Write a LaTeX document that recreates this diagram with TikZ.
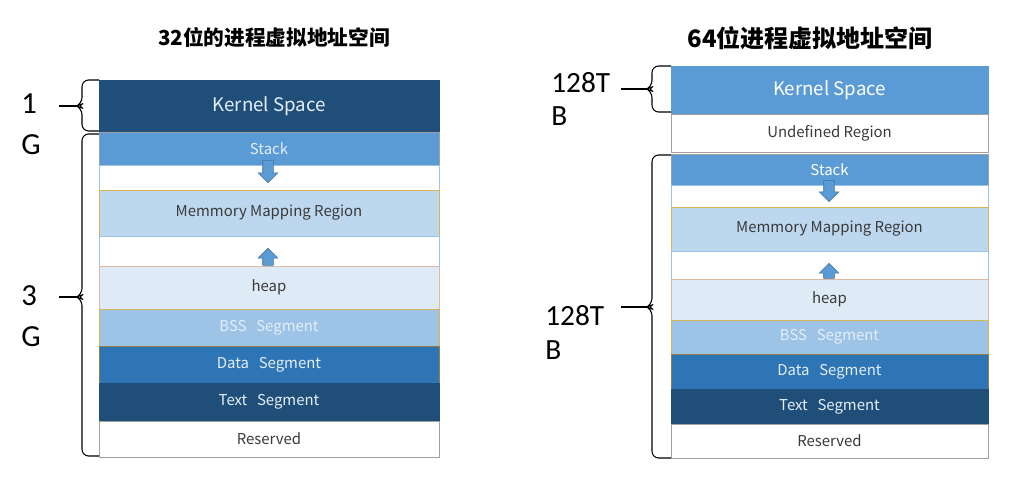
\documentclass[tikz,border=0pt]{standalone}
\usepackage{fontspec}
\setmainfont{Noto Sans CJK SC}
\newfontfamily\sizefont{Carlito}
\usetikzlibrary{shapes.arrows}
\definecolor{navy}{HTML}{1F4E79}
\definecolor{midblue}{HTML}{5B9BD5}
\definecolor{paleblue}{HTML}{BDD7EE}
\definecolor{heapblue}{HTML}{DEEBF7}
\definecolor{bssblue}{HTML}{9DC3E6}
\definecolor{datablue}{HTML}{2E75B6}
\definecolor{paletext}{HTML}{E4EEF8}
\definecolor{labelgrey}{HTML}{3A3A3A}
\definecolor{segedge}{HTML}{A0A0A0}
\definecolor{goldline}{HTML}{D6B656}
\definecolor{tanline}{HTML}{DDB9A3}
\definecolor{arrowedge}{HTML}{41719C}
\newcommand{\segsp}{\hspace{0.65em}}

\begin{document}
\begin{tikzpicture}[x=0.75pt,y=-0.75pt,
    seg/.style={rectangle,draw=segedge,line width=0.6pt,inner sep=0pt,
                text=labelgrey,font=\fontsize{11.2}{13}\selectfont},
    lcol/.style={seg,minimum width=255pt},
    rcol/.style={seg,minimum width=237.75pt},
    navyseg/.style={fill=navy,draw=navy,text=paletext},
    stackseg/.style={fill=midblue,draw=segedge,text=paletext},
    gapseg/.style={fill=white,draw=bssblue},
    mapseg/.style={fill=paleblue,draw=goldline},
    heapseg/.style={fill=heapblue,draw=tanline},
    bssseg/.style={fill=bssblue,draw=goldline,text=paletext},
    dataseg/.style={fill=datablue,draw=goldline!70!black,text=paletext},
    kernfont/.style={font=\fontsize{14}{16}\selectfont},
    growarrow/.style={single arrow,single arrow head extend=3.4pt,inner xsep=0pt,
                 inner ysep=3.75pt,minimum width=14.25pt,fill=midblue,
                 draw=arrowedge,line width=0.4pt},
    curly/.style={line width=0.8pt,rounded corners=5pt},
    sizelbl/.style={font=\sizefont\fontsize{23}{31}\selectfont,align=left,
                    anchor=north west,inner sep=0pt},
    title/.style={font=\bfseries\fontsize{15.5}{18}\selectfont}]
  \useasboundingbox (0,0) rectangle (1019,492);

  % 32-bit address space
  \node[title] (t32) at (274,38) {32位的进程虚拟地址空间};
  \node[lcol,navyseg,kernfont,minimum height=39pt] (k32) at (269,106) {Kernel Space};
  \node[lcol,stackseg,minimum height=24.75pt] (s32) at (269,148.5) {Stack};
  \node[lcol,gapseg,minimum height=18.75pt] (ga32) at (269,177.5) {};
  \node[lcol,mapseg,minimum height=34.5pt] (m32) at (269,213) {Memmory Mapping Region};
  \node[lcol,gapseg,minimum height=22.5pt] (gb32) at (269,251) {};
  \node[lcol,heapseg,minimum height=32.25pt] (h32) at (269,287.5) {heap};
  \node[lcol,bssseg,minimum height=27.75pt] (b32) at (269,327.5) {BSS\segsp Segment};
  \node[lcol,dataseg,minimum height=27.75pt] (d32) at (269,364.5) {Data\segsp Segment};
  \node[lcol,navyseg,minimum height=28.5pt] (x32) at (269,402) {Text\segsp Segment};
  \node[lcol,fill=white,minimum height=27pt] (r32) at (269,439) {Reserved};
  \node[growarrow,rotate=-90,minimum height=16.5pt] (dn32) at (268,169) {};
  \node[growarrow,rotate=90,minimum height=12.75pt] (up32) at (268,259.5) {};

  \draw[curly] (99,80) -- (82,80) -- (82,104) -- (77,106) -- (82,108) -- (82,131) -- (99,131);
  \draw[curly] (99,134) -- (82,134) -- (82,295) -- (77,297) -- (82,299) -- (82,456) -- (99,456);
  \coordinate (tipa32) at (77,106);  \coordinate (enda32) at (59,106);
  \coordinate (tipb32) at (77,297);  \coordinate (endb32) at (59,297);
  \draw[line width=0.8pt] (tipa32) -- (enda32);
  \draw[line width=0.8pt] (tipb32) -- (endb32);
  \node[sizelbl] (one) at (21,93) {1\\G};
  \node[sizelbl] (three) at (21,285) {3\\G};

  % 64-bit address space
  \node[title,font=\bfseries\fontsize{18}{21}\selectfont] (t64) at (810,38) {64位进程虚拟地址空间};
  \node[rcol,stackseg,draw=midblue,text=white,kernfont,minimum height=36pt] (k64) at (829.5,90) {Kernel Space};
  \node[rcol,fill=white,minimum height=28.5pt] (u64) at (829.5,133) {Undefined Region};
  \node[rcol,stackseg,text=white,minimum height=23.25pt] (s64) at (829.5,169.5) {Stack};
  \node[rcol,gapseg,minimum height=16.5pt] (ga64) at (829.5,196) {};
  \node[rcol,mapseg,minimum height=33pt] (m64) at (829.5,229) {Memmory Mapping Region};
  \node[rcol,gapseg,minimum height=21pt] (gb64) at (829.5,265) {};
  \node[rcol,heapseg,minimum height=30.75pt] (h64) at (829.5,299.5) {heap};
  \node[rcol,bssseg,minimum height=25.5pt] (b64) at (829.5,337) {BSS\segsp Segment};
  \node[rcol,dataseg,minimum height=26.25pt] (d64) at (829.5,371.5) {Data\segsp Segment};
  \node[rcol,navyseg,minimum height=26.25pt] (x64) at (829.5,406.5) {Text\segsp Segment};
  \node[rcol,fill=white,minimum height=25.5pt] (r64) at (829.5,441) {Reserved};
  \node[growarrow,rotate=-90,minimum height=15.75pt] (dn64) at (829,188.5) {};
  \node[growarrow,rotate=90,minimum height=11.25pt] (up64) at (829,273.5) {};

  \draw[curly] (671,66) -- (652,66) -- (652,87) -- (647,89) -- (652,91) -- (652,112) -- (671,112);
  \draw[curly] (671,155) -- (652,155) -- (652,305) -- (647,307) -- (652,309) -- (652,458) -- (671,458);
  \coordinate (tipa64) at (647,89);   \coordinate (enda64) at (621,89);
  \coordinate (tipb64) at (647,307);  \coordinate (endb64) at (621,307);
  \draw[line width=0.8pt] (tipa64) -- (enda64);
  \draw[line width=0.8pt] (tipb64) -- (endb64);
  \node[sizelbl,font=\sizefont\fontsize{22}{25}\selectfont] (tbtop) at (551,72) {128T\\B};
  \node[sizelbl,font=\sizefont\fontsize{22}{26}\selectfont] (tbbot) at (545,305) {128T\\B};
\end{tikzpicture}
\end{document}
